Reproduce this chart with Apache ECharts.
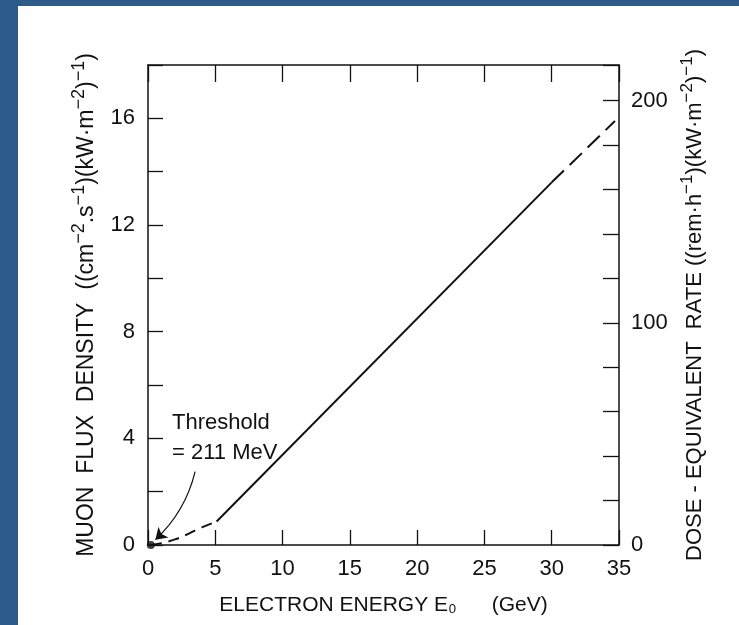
<!DOCTYPE html>
<html lang="en">
<head>
    <meta charset="UTF-8">
    <title>Muon flux vs electron energy</title>
    <script src="https://cdn.jsdelivr.net/npm/echarts@6/dist/echarts.min.js"></script>
    <style>
        html, body { margin: 0; padding: 0; background: #2d5b8a; }
        #paper { position: absolute; left: 18px; top: 6px; right: 0; bottom: 0; background: #fff; }
        #main { position: absolute; left: 0; top: 0; width: 739px; height: 625px; }
    </style>
</head>
<body>
<div id="paper"></div>
<div id="main"></div>
<script type="text/javascript">
    // data (E0 in GeV, flux in (cm-2 s-1)(kW m-2)-1)
    var lowDashE    = [0.21, 1.0, 2.0, 3.0, 4.0, 5.1];
    var lowDashFlux = [0.0, 0.07, 0.21, 0.42, 0.66, 0.88];
    var solidE      = [5.1, 30.0];
    var solidFlux   = [0.88, 13.6];
    var highDashE    = [30.0, 34.7];
    var highDashFlux = [13.6, 15.9];
    var threshold = [0.21, 0];
    // arrow from the label down to the threshold point
    var arrowFrom = [3.5, 2.75];
    var arrowTo = [0.55, 0.2];

    var xTicks = [0, 5, 10, 15, 20, 25, 30, 35];
    var fluxLabels = [0, 4, 8, 12, 16];
    var doseLabels = [0, 100, 200];

    function pairs(xs, ys) {
        var out = [];
        for (var i = 0; i < xs.length; i++) out.push([xs[i], ys[i]]);
        return out;
    }

    var font = 'Liberation Sans, Arial, sans-serif';
    var black = '#111';
    var axisLine = { onZero: false, lineStyle: { color: black, width: 1.5 } };
    var leftRich = {
        n: { fontFamily: font, fontSize: 23, color: black, lineHeight: 28, verticalAlign: 'bottom' },
        s: { fontFamily: font, fontSize: 18, color: black, lineHeight: 28, verticalAlign: 'top' }
    };
    var rightRich = {
        n: { fontFamily: font, fontSize: 22, color: black, lineHeight: 27, verticalAlign: 'bottom' },
        s: { fontFamily: font, fontSize: 17, color: black, lineHeight: 27, verticalAlign: 'top' }
    };

    var myChart = echarts.init(document.getElementById('main'));
    var option = {
        backgroundColor: 'transparent',
        animation: false,
        grid: { left: 148, right: 120, top: 65, bottom: 80 },
        xAxis: [{
            type: 'value', position: 'bottom', min: 0, max: 35, interval: 5,
            name: 'ELECTRON ENERGY E\u2080      (GeV)',
            nameLocation: 'middle', nameGap: 50,
            nameTextStyle: { fontFamily: font, fontSize: 21, color: black },
            axisLine: axisLine,
            axisTick: { inside: true, length: 15, lineStyle: { color: black, width: 1.3 } },
            axisLabel: {
                margin: 13, fontFamily: font, fontSize: 22, color: black,
                formatter: function (v) { return xTicks.indexOf(v) >= 0 ? String(v) : ''; }
            },
            splitLine: { show: false }
        }, {
            type: 'value', position: 'top', min: 0, max: 35, interval: 5,
            axisLine: axisLine,
            axisTick: { inside: true, length: 17, lineStyle: { color: black, width: 1.3 } },
            axisLabel: { show: false },
            splitLine: { show: false }
        }],
        yAxis: [{
            type: 'value', position: 'left', min: 0, max: 18, interval: 2,
            name: '{n|MUON  FLUX  DENSITY  ((cm}{s|\u22122}{n|.s}{s|\u22121}{n|)(kW\u00B7m}{s|\u22122}{n|)}{s|\u22121}{n|)}',
            nameLocation: 'middle', nameGap: 50,
            nameTextStyle: { rich: leftRich },
            axisLine: axisLine,
            axisTick: { inside: true, length: 15, lineStyle: { color: black, width: 1.3 } },
            axisLabel: {
                margin: 13, fontFamily: font, fontSize: 22, color: black,
                formatter: function (v) { return fluxLabels.indexOf(v) >= 0 ? String(v) : ''; }
            },
            splitLine: { show: false }
        }, {
            type: 'value', position: 'right', min: 0, max: 216, interval: 20,
            name: '{n|DOSE - EQUIVALENT  RATE ((rem\u00B7h}{s|\u22121}{n|)(kW\u00B7m}{s|\u22122}{n|)}{s|\u22121}{n|)}',
            nameLocation: 'middle', nameGap: 54, nameRotate: 90,
            nameTextStyle: { rich: rightRich },
            axisLine: axisLine,
            axisTick: { inside: true, length: 16, lineStyle: { color: black, width: 1.3 } },
            axisLabel: {
                margin: 12, fontFamily: font, fontSize: 22, color: black,
                formatter: function (v) { return doseLabels.indexOf(v) >= 0 ? String(v) : ''; }
            },
            splitLine: { show: false }
        }],
        graphic: [{
            type: 'text', left: 172, top: 412,
            style: { text: 'Threshold', font: '22px ' + font, fill: black }
        }, {
            type: 'text', left: 172, top: 442,
            style: { text: '= 211 MeV', font: '22px ' + font, fill: black }
        }],
        series: [{
            type: 'line', xAxisIndex: 0, yAxisIndex: 0, smooth: true, showSymbol: false,
            data: pairs(lowDashE, lowDashFlux),
            lineStyle: { color: black, width: 2, type: [11, 7] }
        }, {
            type: 'line', xAxisIndex: 0, yAxisIndex: 0, showSymbol: false,
            data: pairs(solidE, solidFlux),
            lineStyle: { color: black, width: 2 }
        }, {
            type: 'line', xAxisIndex: 0, yAxisIndex: 0, showSymbol: false,
            data: pairs(highDashE, highDashFlux),
            lineStyle: { color: black, width: 2, type: [17, 8] }
        }, {
            type: 'scatter', xAxisIndex: 0, yAxisIndex: 0,
            data: [threshold], symbolSize: 8,
            itemStyle: { color: black }
        }, {
            type: 'lines', coordinateSystem: 'cartesian2d', xAxisIndex: 0, yAxisIndex: 0,
            symbol: ['none', 'arrow'], symbolSize: 11,
            lineStyle: { color: black, width: 1.2, curveness: 0.15, opacity: 1 },
            data: [{ coords: [arrowFrom, arrowTo] }]
        }]
    };
    myChart.setOption(option);
</script>
</body>
</html>
